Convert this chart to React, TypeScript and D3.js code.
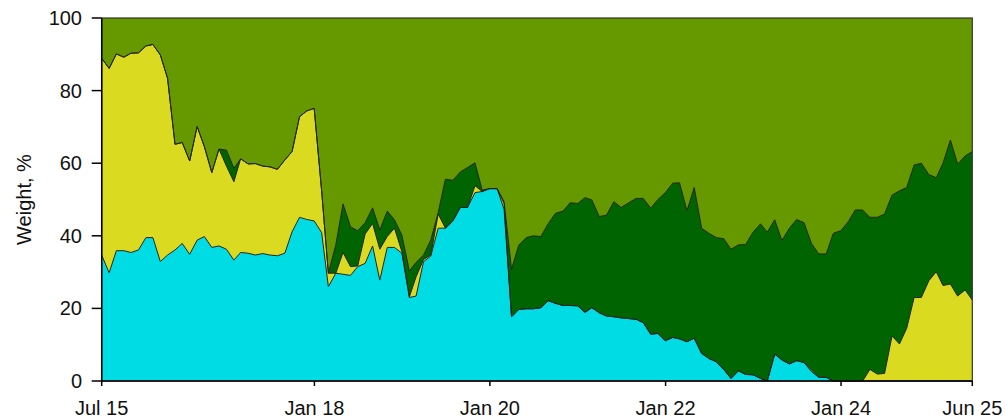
import React from "react";
import * as d3 from "d3";

// Month-end observations, Jul 2015 .. Jun 2025 (120 months)
const months: Date[] = d3.utcMonth
  .range(new Date(Date.UTC(2015, 7, 1)), new Date(Date.UTC(2025, 7, 1)))
  .map((d) => new Date(d.getTime() - 86400000));

const cyan = [
  34.7, 29.8, 35.9, 35.9, 35.4, 36.1, 39.5, 39.5, 32.9, 34.7,
  36.1, 37.9, 34.9, 38.8, 39.8, 36.8, 37.2, 36.3, 33.3, 35.4,
  35.2, 34.7, 35.1, 34.7, 34.5, 35.2, 41.1, 45.1, 44.5, 44.1,
  40.9, 26.0, 29.7, 29.4, 29.1, 31.5, 32.4, 37.2, 27.8, 36.8,
  36.8, 35.2, 23.0, 23.4, 32.9, 34.4, 42.1, 42.1, 44.1, 47.8,
  47.8, 51.9, 52.2, 53.0, 53.0, 47.3, 17.7, 19.7, 19.9, 19.9,
  20.2, 22.1, 21.4, 20.8, 20.8, 20.7, 18.9, 20.2, 18.8, 17.9,
  17.7, 17.4, 17.2, 17.0, 16.1, 12.9, 13.1, 11.1, 12.0, 11.6,
  10.8, 11.8, 7.6, 6.2, 5.3, 3.2, 0.7, 2.8, 1.8, 1.7,
  0.7, 0.0, 7.4, 5.8, 4.7, 5.6, 5.1, 2.6, 1.0, 1.0,
  0, 0, 0, 0, 0, 0, 0, 0, 0, 0,
  0, 0, 0, 0, 0, 0, 0, 0, 0, 0,
];

const yellow = [
  54.2, 56.3, 54.2, 53.3, 54.9, 54.3, 52.8, 53.2, 56.9, 48.7,
  29.1, 27.8, 25.7, 31.3, 24.8, 20.6, 26.7, 22.9, 21.6, 25.8,
  24.6, 25.2, 24.1, 24.3, 23.8, 25.7, 22.1, 27.7, 29.9, 31.0,
  11.5, 3.7, 0.0, 6.0, 2.4, 0.2, 8.1, 6.2, 8.5, 3.0,
  5.3, 0.4, 0.2, 5.3, 0.6, 0.3, 3.9, 0, 0, 0,
  0, 1.9, 0, 0, 0, 1.6, 0, 0, 0, 0,
  0, 0, 0, 0, 0, 0, 0, 0, 0, 0,
  0, 0, 0, 0, 0, 0, 0, 0, 0, 0,
  0, 0, 0, 0, 0, 0, 0, 0, 0, 0,
  0, 0, 0, 0, 0, 0, 0, 0.4, 0, 0,
  0, 0, 0, 0, 0, 3.2, 1.9, 2.1, 12.4, 10.2,
  14.5, 23.0, 23.0, 27.6, 30.1, 26.3, 26.7, 23.4, 25.1, 22.3,
];

const darkGreen = [
  0, 0, 0, 0, 0, 0, 0, 0, 0, 0,
  0, 0, 0, 0, 0, 0, 0, 4.4, 3.7, 0,
  0, 0, 0, 0, 0, 0, 0, 0, 0, 0,
  0, 0, 7.8, 13.4, 11.0, 9.7, 3.1, 4.3, 5.3, 7.0,
  2.3, 4.6, 7.1, 4.0, 1.2, 4.1, 0.4, 13.5, 11.2, 9.8,
  11.0, 6.3, 0.4, 0, 0, 0.5, 13.1, 17.7, 19.6, 20.1,
  19.6, 21.3, 24.8, 26.0, 28.3, 28.2, 31.6, 29.7, 26.5, 27.8,
  31.7, 30.4, 31.9, 33.3, 34.2, 34.7, 36.9, 40.8, 42.5, 43.0,
  36.1, 41.5, 34.5, 34.5, 34.2, 36.0, 35.6, 34.7, 35.8, 39.3,
  42.6, 41.0, 37.0, 32.9, 37.4, 38.9, 38.5, 34.9, 34.0, 34.0,
  40.7, 41.4, 43.9, 47.1, 47.1, 41.9, 43.2, 43.9, 38.8, 42.2,
  38.8, 36.5, 37.0, 29.3, 25.9, 33.7, 39.7, 36.4, 36.9, 40.9,
];

const seriesKeys = ["cyan", "yellow", "darkGreen"];
const seriesColors = ["#00dce4", "#dada20", "#006400"];
const remainderColor = "#669900";

const xTickDates = [
  new Date(Date.UTC(2015, 6, 31)),
  new Date(Date.UTC(2018, 0, 1)),
  new Date(Date.UTC(2020, 0, 1)),
  new Date(Date.UTC(2022, 0, 1)),
  new Date(Date.UTC(2024, 0, 1)),
  new Date(Date.UTC(2025, 5, 30)),
];
const xTickLabels = ["Jul 15", "Jan 18", "Jan 20", "Jan 22", "Jan 24", "Jun 25"];
const yTicks = [0, 20, 40, 60, 80, 100];

const W = 1005;
const H = 420;
const M = { left: 101.7, right: 972.3, top: 18, bottom: 381 };
const FONT = "'Liberation Sans', Arial, sans-serif";

export default function App() {
  const rows = months.map((d, i) => ({
    date: d,
    cyan: cyan[i],
    yellow: yellow[i],
    darkGreen: darkGreen[i],
  }));
  const stacked = d3.stack<any>().keys(seriesKeys)(rows);

  const x = d3
    .scaleUtc()
    .domain([months[0], months[months.length - 1]])
    .range([M.left, M.right]);
  const y = d3.scaleLinear().domain([0, 100]).range([M.bottom, M.top]);

  const area = d3
    .area<any>()
    .x((d) => x(d.data.date))
    .y0((d) => y(d[0]))
    .y1((d) => y(d[1]));
  const topLine = d3
    .line<any>()
    .x((d) => x(d.data.date))
    .y((d) => y(d[1]));

  const last = stacked[stacked.length - 1];
  const remainderArea = d3
    .area<any>()
    .x((d) => x(d.data.date))
    .y0((d) => y(d[1]))
    .y1(() => y(100));

  return (
    <svg
      width={W}
      height={H}
      style={{ position: "absolute", left: 0, top: 0, background: "#fff" }}
      fontFamily={FONT}
    >
      <path d={remainderArea(last) || ""} fill={remainderColor} />
      {stacked.map((s, i) => (
        <path key={"a" + i} d={area(s) || ""} fill={seriesColors[i]} />
      ))}
      {stacked.map((s, i) => (
        <path
          key={"l" + i}
          d={topLine(s) || ""}
          fill="none"
          stroke="#222"
          strokeWidth={1}
          strokeLinejoin="round"
        />
      ))}
      {/* frame */}
      <rect
        x={M.left}
        y={M.top}
        width={M.right - M.left}
        height={M.bottom - M.top}
        fill="none"
        stroke="#333"
        strokeWidth={1.2}
      />
      <line x1={M.left} x2={M.left} y1={M.top} y2={M.bottom} stroke="#000" strokeWidth={1.5} />
      <line x1={M.left} x2={M.right} y1={M.bottom} y2={M.bottom} stroke="#000" strokeWidth={1.5} />
      {yTicks.map((t) => (
        <g key={"y" + t}>
          <line x1={M.left - 10} x2={M.left} y1={y(t)} y2={y(t)} stroke="#000" strokeWidth={1.5} />
          <text
            x={82}
            y={y(t)}
            textAnchor="end"
            dominantBaseline="central"
            fontSize={20}
            fill="#111"
          >
            {t}
          </text>
        </g>
      ))}
      {xTickDates.map((d, i) => (
        <g key={"x" + i}>
          <line x1={x(d)} x2={x(d)} y1={M.bottom} y2={M.bottom + 5} stroke="#000" strokeWidth={1.5} />
          <text x={x(d)} y={415} textAnchor="middle" fontSize={20} fill="#111">
            {xTickLabels[i]}
          </text>
        </g>
      ))}
      <text
        transform={`translate(31,${(M.top + M.bottom) / 2}) rotate(-90)`}
        textAnchor="middle"
        fontSize={20}
        fill="#111"
      >
        Weight, %
      </text>
    </svg>
  );
}
